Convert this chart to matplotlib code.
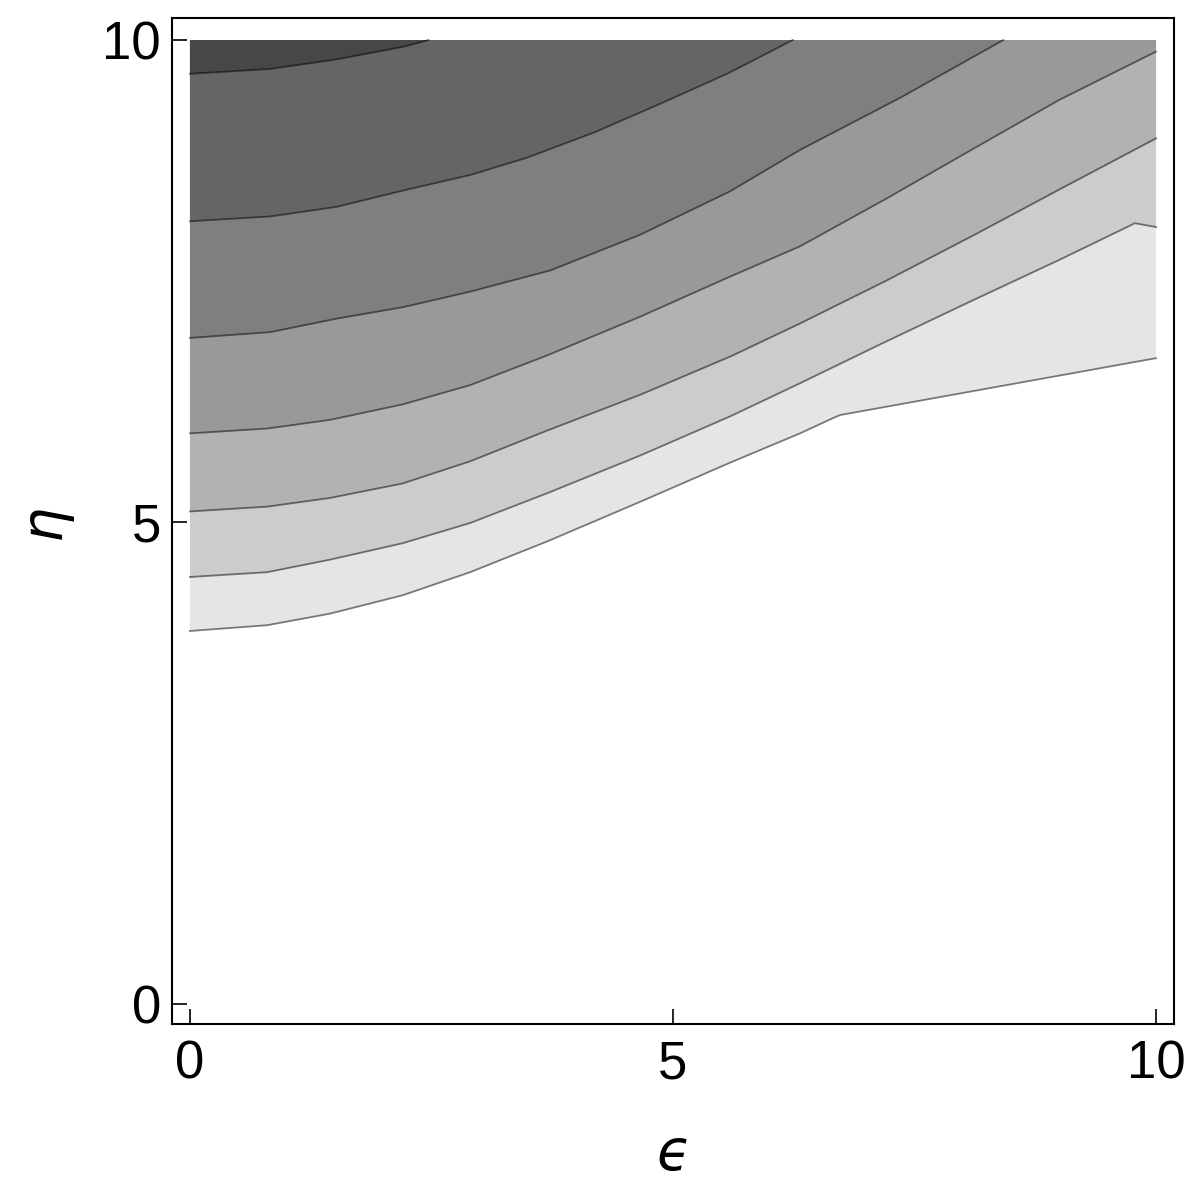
import matplotlib
matplotlib.use("Agg")
import matplotlib.pyplot as plt

plt.rcParams['font.family'] = ['Liberation Sans', 'DejaVu Sans']

# contour lines, (epsilon, eta) pairs, from lowest to highest
line1_eps = [0, 0.8, 1.45, 2.2, 2.9, 3.7, 4.66, 5.6, 6.315, 6.66, 6.73, 10]
line1_eta = [3.87, 3.93, 4.05, 4.24, 4.48, 4.80, 5.21, 5.62, 5.92, 6.08, 6.11, 6.70]

line2_eps = [0, 0.8, 1.45, 2.2, 2.9, 3.7, 4.66, 5.6, 6.315, 7.2, 8.04, 9.0, 9.70, 9.78, 10]
line2_eta = [4.43, 4.48, 4.61, 4.78, 4.99, 5.30, 5.69, 6.10, 6.44, 6.87, 7.27, 7.72, 8.06, 8.10, 8.06]

line3_eps = [0, 0.8, 1.45, 2.2, 2.9, 3.7, 4.66, 5.6, 6.315, 7.2, 8.14, 9.0, 10]
line3_eta = [5.11, 5.16, 5.25, 5.40, 5.63, 5.95, 6.32, 6.72, 7.06, 7.50, 7.99, 8.45, 8.98]

line4_eps = [0, 0.8, 1.45, 2.2, 2.9, 3.7, 4.66, 5.6, 6.315, 7.2, 8.14, 9.0, 10]
line4_eta = [5.92, 5.97, 6.06, 6.22, 6.42, 6.73, 7.13, 7.55, 7.86, 8.35, 8.89, 9.38, 9.88]

line5_eps = [0, 0.83, 1.52, 2.21, 2.9, 3.73, 4.66, 5.59, 6.315, 7.35, 8.42]
line5_eta = [6.91, 6.97, 7.11, 7.23, 7.39, 7.61, 7.98, 8.43, 8.86, 9.40, 10.0]

line6_eps = [0, 0.83, 1.52, 2.21, 2.9, 3.49, 4.18, 4.87, 5.56, 6.24]
line6_eta = [8.12, 8.17, 8.27, 8.44, 8.60, 8.78, 9.04, 9.34, 9.65, 10.0]

line7_eps = [0, 0.83, 1.52, 2.21, 2.47]
line7_eta = [9.65, 9.70, 9.80, 9.93, 10.0]

lines = [(line1_eps, line1_eta), (line2_eps, line2_eta), (line3_eps, line3_eta),
         (line4_eps, line4_eta), (line5_eps, line5_eta), (line6_eps, line6_eta),
         (line7_eps, line7_eta)]

# fill colour above each line
band_colors = ['#e5e5e5', '#cccccc', '#b2b2b2', '#999999', '#7f7f7f', '#656565', '#474747']

xticks = [0, 5, 10]
yticks = [0, 5, 10]

fig = plt.figure(figsize=(12.02, 11.96), dpi=100)
ax = fig.add_axes([0.1431, 0.1438, 0.8336, 0.8411])

for (xs, ys), c in zip(lines, band_colors):
    px = list(xs)
    py = list(ys)
    if px[-1] < 10:
        px = px + [px[-1]]
        py = py + [10]
    else:
        px = px + [10]
        py = py + [10]
    px = px + [0]
    py = py + [10]
    ax.fill(px, py, color=c, lw=0)

for xs, ys in lines:
    ax.plot(xs, ys, color='black', alpha=0.5, lw=1.3)

ax.set_xlim(-0.186, 10.186)
ax.set_ylim(-0.207, 10.228)
ax.set_xticks(xticks)
ax.set_yticks(yticks)
ax.tick_params(direction='in', length=10.5, width=1.2, labelsize=38, colors='black')
ax.tick_params(axis='x', pad=11)
ax.tick_params(axis='y', pad=8)
for s in ax.spines.values():
    s.set_linewidth(1.5)

ax.set_xlabel('ϵ', fontsize=40, style='italic', family=['DejaVu Sans'], labelpad=28)
ax.set_ylabel('η', fontsize=40, style='italic', family=['DejaVu Sans'], labelpad=22)

fig.savefig('out.png', dpi=100)
